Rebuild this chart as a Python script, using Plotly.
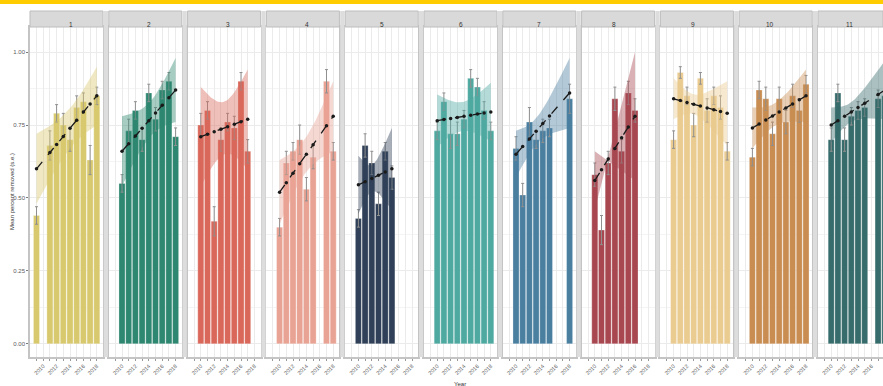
import plotly.graph_objects as go

# ---- data -------------------------------------------------------------
years = [2009, 2010, 2011, 2012, 2013, 2014, 2015, 2016, 2017, 2018]
tick_years = [2010, 2012, 2014, 2016, 2018]
panel_labels = ["1", "2", "3", "4", "5", "6", "7", "8", "9", "10", "11"]
y_ticks = [0.0, 0.25, 0.5, 0.75, 1.0]
y_tick_text = ["0.00", "0.25", "0.50", "0.75", "1.00"]

colors = ["#D8C96E", "#2E8770", "#D9685A", "#E9A394", "#2F4058", "#4EA9A1",
          "#4A7FA0", "#A84750", "#EACB90", "#C98D52", "#366C6B"]

site1 = [0.44, None, 0.68, 0.79, 0.75, 0.70, 0.81, 0.83, 0.63, 0.85]
site2 = [None, 0.55, 0.73, 0.80, 0.70, 0.86, 0.77, 0.87, 0.90, 0.71]
site3 = [None, 0.75, 0.80, 0.42, 0.70, 0.76, 0.74, 0.90, 0.66, None]
site4 = [None, 0.40, 0.62, 0.66, 0.70, 0.53, 0.64, None, 0.90, 0.66]
site5 = [None, 0.43, 0.68, 0.62, 0.48, 0.66, 0.57, None, None, None]
site6 = [None, 0.73, 0.83, 0.72, 0.72, 0.77, 0.91, 0.88, 0.80, 0.73]
site7 = [None, 0.67, 0.51, 0.76, 0.70, 0.73, 0.74, None, None, 0.84]
site8 = [None, 0.58, 0.39, 0.62, 0.84, 0.66, 0.86, 0.80, None, None]
site9 = [None, 0.70, 0.93, 0.85, 0.75, 0.91, 0.80, 0.85, 0.81, 0.66]
site10 = [None, 0.64, 0.87, 0.84, 0.72, 0.84, 0.76, 0.85, 0.80, 0.89]
site11 = [None, 0.70, 0.86, 0.70, 0.78, 0.80, 0.81, None, 0.84, 0.85]

se1 = [0.03, None, 0.05, 0.03, 0.04, 0.04, 0.04, 0.03, 0.05, 0.03]
se2 = [None, 0.03, 0.04, 0.03, 0.04, 0.03, 0.04, 0.03, 0.03, 0.03]
se3 = [None, 0.04, 0.03, 0.05, 0.04, 0.03, 0.04, 0.03, 0.04, None]
se4 = [None, 0.03, 0.04, 0.03, 0.05, 0.04, 0.04, None, 0.04, 0.03]
se5 = [None, 0.03, 0.04, 0.04, 0.04, 0.03, 0.04, None, None, None]
se6 = [None, 0.03, 0.03, 0.05, 0.04, 0.03, 0.03, 0.03, 0.03, 0.03]
se7 = [None, 0.04, 0.04, 0.05, 0.03, 0.04, 0.03, None, None, 0.05]
se8 = [None, 0.04, 0.05, 0.04, 0.04, 0.04, 0.04, 0.04, None, None]
se9 = [None, 0.03, 0.02, 0.03, 0.04, 0.02, 0.04, 0.03, 0.04, 0.03]
se10 = [None, 0.03, 0.03, 0.04, 0.04, 0.04, 0.04, 0.04, 0.04, 0.03]
se11 = [None, 0.04, 0.03, 0.04, 0.03, 0.03, 0.03, None, 0.03, 0.03]

# linear trend (fitted value at first and last sampled year)
trend_start = [0.60, 0.66, 0.71, 0.52, 0.545, 0.765, 0.65, 0.56, 0.84, 0.74, 0.75]
trend_end = [0.85, 0.87, 0.77, 0.78, 0.60, 0.795, 0.86, 0.78, 0.79, 0.85, 0.87]
# confidence band half-width at first year, centre and last year
band_first = [0.12, 0.12, 0.17, 0.11, 0.10, 0.09, 0.08, 0.10, 0.07, 0.07, 0.06]
band_mid = [0.07, 0.06, 0.09, 0.06, 0.05, 0.05, 0.05, 0.06, 0.04, 0.04, 0.04]
band_last = [0.10, 0.11, 0.17, 0.12, 0.14, 0.10, 0.12, 0.22, 0.11, 0.09, 0.10]

means = [site1, site2, site3, site4, site5, site6, site7, site8, site9, site10, site11]
errors = [se1, se2, se3, se4, se5, se6, se7, se8, se9, se10, se11]

# ---- geometry (pixels) ------------------------------------------------
W, H = 883, 386
ML, MR, MT, MB = 30, 0, 27, 29
PW = W - ML - MR
PH = H - MT - MB
PITCH, PANEL_W = 78.8, 73.0
PX_PER_YEAR = 6.7
X_LEFT = years[0] - 0.97
Y_RANGE = [-0.045, 1.086]
STRIP_TOP = 11


def fx(px):
    return (px - ML) / PW


def fy(py):
    return (H - MB - py) / PH


def rgba(hex_color, a):
    h = hex_color.lstrip("#")
    r, g, b = int(h[0:2], 16), int(h[2:4], 16), int(h[4:6], 16)
    return f"rgba({r},{g},{b},{a})"


fig = go.Figure()
shapes = []
annotations = []
font_family = "Liberation Sans, Arial, sans-serif"

for i, (vals, errs, col) in enumerate(zip(means, errors, colors)):
    n = "" if i == 0 else str(i + 1)
    xa, ya = "x" + n, "y" + n
    left = ML + PITCH * i
    right = min(left + PANEL_W, W - MR)
    x_right = X_LEFT + (right - left) / PX_PER_YEAR

    xs = [yr for yr, v in zip(years, vals) if v is not None]
    ys = [v for v in vals if v is not None]
    es = [e for e in errs if e is not None]

    fig.add_trace(go.Bar(
        x=xs, y=ys, width=0.9, xaxis=xa, yaxis=ya,
        marker=dict(color=col, line=dict(color="rgba(255,255,255,0.45)", width=0.6)),
        error_y=dict(type="data", array=es, color="#8f8f8f", thickness=1, width=1.5),
        showlegend=False, hoverinfo="skip"))

    # confidence ribbon of the linear fit (hyperbolic in shape)
    x0, x1 = xs[0], xs[-1]
    xc = (x0 + x1) / 2
    half = (x1 - x0) / 2
    s2, m2, e2 = band_first[i] ** 2, band_mid[i] ** 2, band_last[i] ** 2
    steps = 40
    gx, up, lo = [], [], []
    for k in range(steps + 1):
        xv = x0 + (x1 - x0) * k / steps
        t = (xv - xc) / half
        hw = (m2 + (e2 - s2) / 2 * t + ((e2 + s2) / 2 - m2) * t * t) ** 0.5
        fit = trend_start[i] + (trend_end[i] - trend_start[i]) * (xv - x0) / (x1 - x0)
        gx.append(xv)
        up.append(fit + hw)
        lo.append(fit - hw)
    fig.add_trace(go.Scatter(
        x=gx + gx[::-1], y=up + lo[::-1], xaxis=xa, yaxis=ya,
        fill="toself", fillcolor=rgba(col, 0.42), line=dict(width=0),
        mode="lines", showlegend=False, hoverinfo="skip"))

    fit_pts = [trend_start[i] + (trend_end[i] - trend_start[i]) * (xv - x0) / (x1 - x0)
               for xv in xs]
    fig.add_trace(go.Scatter(
        x=xs, y=fit_pts, xaxis=xa, yaxis=ya, mode="lines+markers",
        line=dict(color="#1a1a1a", width=1.3, dash="dash"),
        marker=dict(color="#1a1a1a", size=3.5),
        showlegend=False, hoverinfo="skip"))

    fig.update_layout(**{
        "xaxis" + n: dict(
            domain=[fx(left), fx(right)], range=[X_LEFT, x_right], anchor=ya,
            tickmode="array", tickvals=years,
            ticktext=[str(y) if y in tick_years else "" for y in years],
            tickangle=-45, tickfont=dict(size=5.5, color="#595959", family=font_family),
            ticks="outside", ticklen=2, tickcolor="#9a9a9a",
            showgrid=True, gridcolor="#ebebeb", gridwidth=0.7, zeroline=False,
            showline=True, mirror=True, linecolor="#c4c4c4", linewidth=1.5,
            automargin=False, fixedrange=True),
        "yaxis" + n: dict(
            domain=[0, 1], range=Y_RANGE, anchor=xa,
            tickmode="array", tickvals=y_ticks, ticktext=y_tick_text,
            showticklabels=(i == 0), ticks="outside" if i == 0 else "",
            ticklen=2, tickcolor="#7a7a7a",
            tickfont=dict(size=6, color="#595959", family=font_family),
            showgrid=True, gridcolor="#ebebeb", gridwidth=0.7,
            minor=dict(showgrid=True, dtick=0.125, tick0=0, gridcolor="#f4f4f4", gridwidth=0.5),
            zeroline=False, showline=True, mirror=True, linecolor="#c4c4c4",
            linewidth=1.5, automargin=False, fixedrange=True),
    })

    # facet strip
    shapes.append(dict(type="rect", xref="paper", yref="paper",
                       x0=fx(left), x1=fx(right), y0=fy(MT), y1=fy(STRIP_TOP),
                       fillcolor="#d9d9d9", line=dict(color="#bdbdbd", width=1)))
    annotations.append(dict(text=panel_labels[i], xref="paper", yref="paper",
                            x=fx(left + PANEL_W / 2), y=fy((MT + STRIP_TOP) / 2),
                            showarrow=False, font=dict(size=6.5, color="#333333", family=font_family)))
    # grey gutter to the next panel
    if i < len(means) - 1:
        shapes.append(dict(type="rect", xref="paper", yref="paper",
                           x0=fx(left + PANEL_W + 0.8), x1=fx(left + PITCH - 0.8),
                           y0=fy(H - MB), y1=fy(STRIP_TOP),
                           fillcolor="#dddddd", line=dict(width=0)))

# yellow band along the top edge
shapes.append(dict(type="rect", xref="paper", yref="paper",
                   x0=fx(0), x1=fx(W), y0=fy(4), y1=fy(0),
                   fillcolor="#FFCC00", line=dict(width=0)))

annotations.append(dict(text="Mean percent removed (s.e.)", xref="paper", yref="paper",
                        x=fx(7), y=fy(192), textangle=-90, showarrow=False,
                        font=dict(size=6, color="#333333", family=font_family)))
annotations.append(dict(text="Year", xref="paper", yref="paper",
                        x=fx(460), y=fy(384), yanchor="middle", showarrow=False,
                        font=dict(size=6, color="#333333", family=font_family)))

fig.update_layout(
    width=W, height=H,
    margin=dict(l=ML, r=MR, t=MT, b=MB, pad=0),
    paper_bgcolor="white", plot_bgcolor="white",
    shapes=shapes, annotations=annotations,
    font=dict(family=font_family),
    showlegend=False,
)

fig.write_html("out.html", config={"displayModeBar": False})
